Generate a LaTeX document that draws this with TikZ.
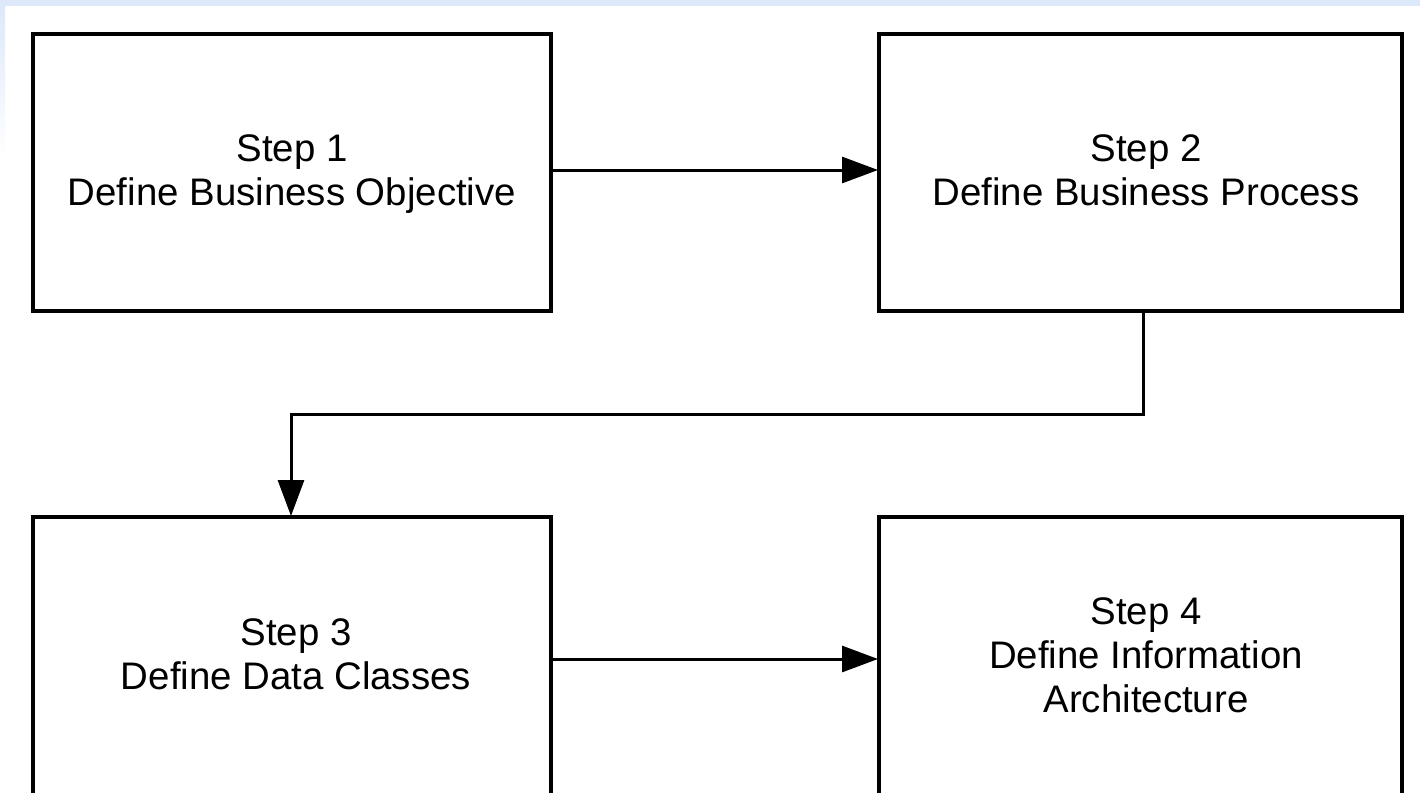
\documentclass[tikz,border=0pt]{standalone}
\usepackage{fontspec}
\setmainfont{Liberation Sans}
\usetikzlibrary{arrows.meta}
\definecolor{edgeblue}{HTML}{DDE8FB}
\begin{document}
\begin{tikzpicture}[x=0.5pt,y=-0.5pt,
  stepbox/.style={draw=black,line width=2pt,fill=white},
  steptext/.style={font=\fontsize{19.2pt}{22pt}\selectfont,align=center,text=black,anchor=base,inner sep=0pt},
  conn/.style={line width=1.5pt,-{Triangle[length=18pt,width=13pt]}}]
\useasboundingbox (0,0) rectangle (1420,793);
\fill[white] (0,0) rectangle (1420,793);
\fill[edgeblue] (0,0) rectangle (1420,6);
\shade[top color=edgeblue,bottom color=white] (0,6) rectangle (5,160);
\begin{scope}
\clip (0,0) rectangle (1420,793);
\draw[stepbox] (33,34) rectangle (551,311);
\draw[stepbox] (879,34) rectangle (1402,311);
\draw[stepbox] (33,517) rectangle (551,796);
\draw[stepbox] (879,517) rectangle (1402,796);
\end{scope}
\coordinate (b1) at (292,205);
\coordinate (b2) at (1146,205);
\coordinate (b3) at (296,689);
\coordinate (b4) at (1146,712);
\node[steptext] (t1) at (b1) {Step 1\\Define Business Objective};
\node[steptext] (t2) at (b2) {Step 2\\Define Business Process};
\node[steptext] (t3) at (b3) {Step 3\\Define Data Classes};
\node[steptext] (t4) at (b4) {Step 4\\Define Information\\Architecture};
\coordinate (s1) at (551,170);
\coordinate (e1) at (878,170);
\coordinate (s2) at (1143,311);
\coordinate (m2) at (291,414);
\coordinate (e2) at (291,516);
\coordinate (s3) at (551,659);
\coordinate (e3) at (878,659);
\draw[conn] (s1) -- (e1);
\draw[conn] (s2) |- (m2) -- (e2);
\draw[conn] (s3) -- (e3);
\end{tikzpicture}
\end{document}
